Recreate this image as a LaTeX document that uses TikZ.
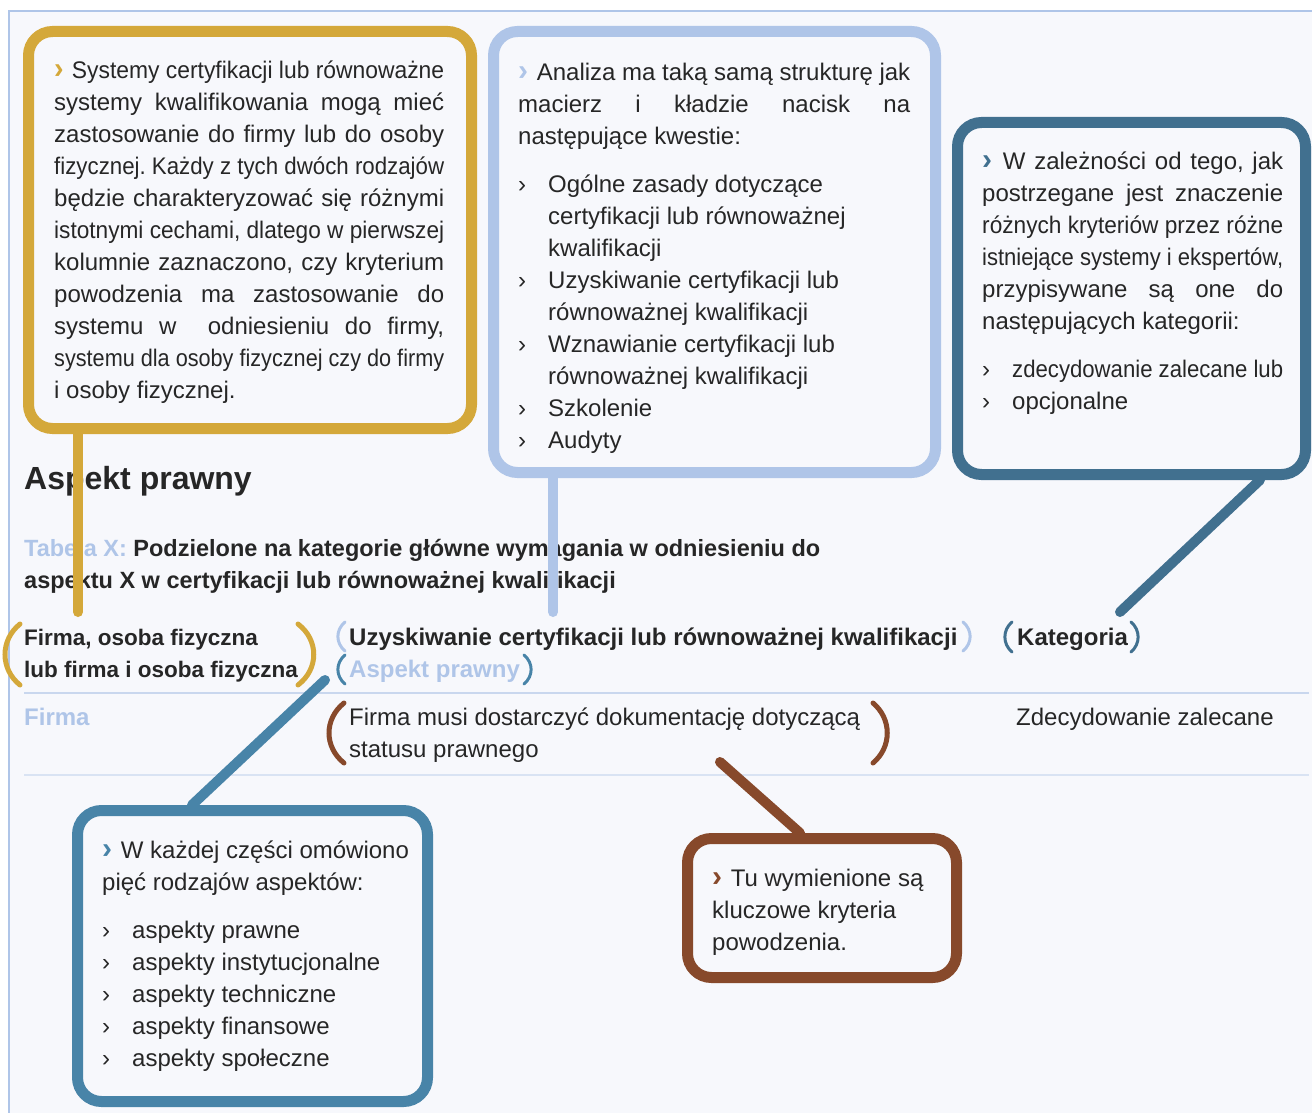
\documentclass[tikz,border=0pt]{standalone}
\usepackage{fontspec}
\setmainfont{Liberation Sans}
\usepackage{graphicx}
\setlength\parindent{0pt}
\frenchspacing
\hyphenpenalty=10000
\exhyphenpenalty=10000

\definecolor{bg}{HTML}{F7F8FC}
\definecolor{ink}{HTML}{262626}
\definecolor{gold}{HTML}{D4A83A}
\definecolor{lblue}{HTML}{AFC5E8}
\definecolor{dteal}{HTML}{41708F}
\definecolor{mblue}{HTML}{4884A8}
\definecolor{rust}{HTML}{87492B}
\definecolor{rulecol}{HTML}{C9D7EE}

\newlength\jlwd
\newcommand\justline[1]{\settowidth\jlwd{\spaceskip0pt #1}\ifdim\jlwd>\linewidth\resizebox{\linewidth}{\height}{\spaceskip0pt #1}\else\makebox[\linewidth][s]{\spaceskip0pt #1}\fi}
\newcommand\chev[1]{{\bfseries\color{#1}\scalebox{1.25}{›}\hspace{2pt}}}
\newcommand\bul{\makebox[30pt][l]{›}}
\newcommand\cont{\hspace*{30pt}}

\tikzset{
  bubble/.style={draw=#1, line width=11pt, rounded corners=24pt, fill=bg, inner sep=0pt},
  stem/.style={draw=#1, line width=10pt, line cap=round},
  paren/.style={draw=#1, line width=5pt, line cap=round},
  sparen/.style={draw=#1, line width=3pt, line cap=round},
  boxtext/.style={anchor=base west, inner sep=0pt, text width=#1, align=justify, text=ink, font=\fontsize{24}{32}\selectfont},
  headtext/.style={anchor=base west, inner sep=0pt, text=ink, font=\fontsize{24}{32}\selectfont\bfseries},
  rule/.style={draw=rulecol, line width=1.5pt}
}

\begin{document}
\begin{tikzpicture}[x=1pt, y=-1pt]
\useasboundingbox (0,0) rectangle (1312,1113);
\fill[bg] (9,11) rectangle (1312,1113);
\draw[lblue, line width=1.5pt] (9,1113) -- (9,11) -- (1312,11);

% callout boxes
\node[bubble=gold, minimum width=443pt, minimum height=397pt] (gbox) at (250,230) {};
\node[bubble=lblue, minimum width=442pt, minimum height=441pt] (lbbox) at (714.5,252) {};
\node[bubble=dteal, minimum width=348pt, minimum height=352pt] (rbox) at (1131.5,298.5) {};
\node[bubble=mblue, minimum width=350pt, minimum height=291pt] (blbox) at (252.5,956) {};
\node[bubble=rust, minimum width=269pt, minimum height=139pt] (brbox) at (822,908) {};

\node[boxtext=390pt] (gtext) at (54,79) {%
\justline{\chev{gold} Systemy certyfikacji lub równoważne}\\
\justline{systemy kwalifikowania mogą mieć}\\
\justline{zastosowanie do firmy lub do osoby}\\
\justline{fizycznej. Każdy z tych dwóch rodzajów}\\
\justline{będzie charakteryzować się różnymi}\\
\justline{istotnymi cechami, dlatego w pierwszej}\\
\justline{kolumnie zaznaczono, czy kryterium}\\
\justline{powodzenia ma zastosowanie do}\\
\justline{systemu w\ \ odniesieniu do firmy,}\\
\justline{systemu dla osoby fizycznej czy do firmy}\\
i osoby fizycznej.};

\node[boxtext=392pt] (lbtext) at (518,81) {%
\justline{\chev{lblue} Analiza ma taką samą strukturę jak}\\
\justline{macierz i kładzie nacisk na}\\
następujące kwestie:\\[16pt]
\bul Ogólne zasady dotyczące\\
\cont certyfikacji lub równoważnej\\
\cont kwalifikacji\\
\bul Uzyskiwanie certyfikacji lub\\
\cont równoważnej kwalifikacji\\
\bul Wznawianie certyfikacji lub\\
\cont równoważnej kwalifikacji\\
\bul Szkolenie\\
\bul Audyty};

\node[boxtext=301pt] (rtext) at (982,170) {%
\justline{\chev{dteal} W zależności od tego, jak}\\
\justline{postrzegane jest znaczenie}\\
\justline{różnych kryteriów przez różne}\\
\justline{istniejące systemy i ekspertów,}\\
\justline{przypisywane są one do}\\
następujących kategorii:\\[16pt]
\bul\resizebox{271pt}{\height}{zdecydowanie zalecane lub}\\
\bul opcjonalne};

\node[boxtext=330pt] (bltext) at (102,858) {%
\chev{mblue} W każdej części omówiono\\
pięć rodzajów aspektów:\\[16pt]
\bul aspekty prawne\\
\bul aspekty instytucjonalne\\
\bul aspekty techniczne\\
\bul aspekty finansowe\\
\bul aspekty społeczne};

\node[boxtext=240pt] (brtext) at (712,886) {%
\chev{rust} Tu wymienione są\\
kluczowe kryteria\\
powodzenia.};

% heading and table
\node[headtext, font=\fontsize{32}{38}\selectfont\bfseries] (head) at (24,489) {Aspekt prawny};
\node[boxtext=850pt, font=\fontsize{23.5}{32}\selectfont\bfseries] (caption) at (24,556) {%
{\color{lblue}Tabela X:} Podzielone na kategorie główne wymagania w odniesieniu do\\
aspektu X w certyfikacji lub równoważnej kwalifikacji};

\node[boxtext=330pt, font=\fontsize{22.5}{32}\selectfont\bfseries] (hfirm) at (24,645) {%
Firma, osoba fizyczna\\
lub firma i osoba fizyczna};
\node[headtext] (hcrit) at (349,645) {Uzyskiwanie certyfikacji lub równoważnej kwalifikacji};
\node[headtext, text=lblue] (haspect) at (349,677) {Aspekt prawny};
\node[headtext] (hcat) at (1017,645) {Kategoria};

\draw[rule] (24,693) -- (1309,693);
\node[headtext, text=lblue] (rfirm) at (24,725) {Firma};
\node[boxtext=540pt] (rcrit) at (349,725) {%
Firma musi dostarczyć dokumentację dotyczącą\\
statusu prawnego};
\node[boxtext=280pt] (rcat) at (1016,725) {Zdecydowanie zalecane};
\draw[rule, draw=rulecol!70] (24,775) -- (1309,775);

% brackets
\draw[paren=gold] (20,624) .. controls (0,640) and (0,669) .. (20,685);
\draw[paren=gold] (298,624) .. controls (319,640) and (319,669) .. (298,685);
\draw[sparen=lblue] (345,622) .. controls (335.5,630) and (335.5,643) .. (345,651);
\draw[sparen=lblue] (963,622) .. controls (972.5,630) and (972.5,643) .. (963,651);
\draw[sparen=mblue] (345,655) .. controls (335.5,663) and (335.5,676) .. (345,684);
\draw[sparen=mblue] (524,655) .. controls (533.5,663) and (533.5,676) .. (524,684);
\draw[sparen=dteal] (1012,622) .. controls (1002.5,630) and (1002.5,644) .. (1012,652);
\draw[sparen=dteal] (1131,622) .. controls (1140.5,630) and (1140.5,644) .. (1131,652);
\draw[paren=rust] (344,703) .. controls (324,719) and (324,747) .. (344,763);
\draw[paren=rust] (873,703) .. controls (892,719) and (892,747) .. (873,763);

% pointers
\coordinate (gtip) at (78,612);
\coordinate (lbtip) at (553,612);
\coordinate (rtip) at (1120,612);
\coordinate (bltip) at (325,680);
\coordinate (brtip) at (720,762);
\draw[stem=gold] (gtip |- gbox.south) -- (gtip);
\draw[stem=lblue] (lbtip |- lbbox.south) -- (lbtip);
\draw[stem=dteal] ([xshift=128.5pt]rbox.south) -- (rtip);
\draw[stem=mblue] ([xshift=-60.5pt]blbox.north) -- (bltip);
\draw[stem=rust] ([xshift=-22pt]brbox.north) -- (brtip);
\end{tikzpicture}
\end{document}
